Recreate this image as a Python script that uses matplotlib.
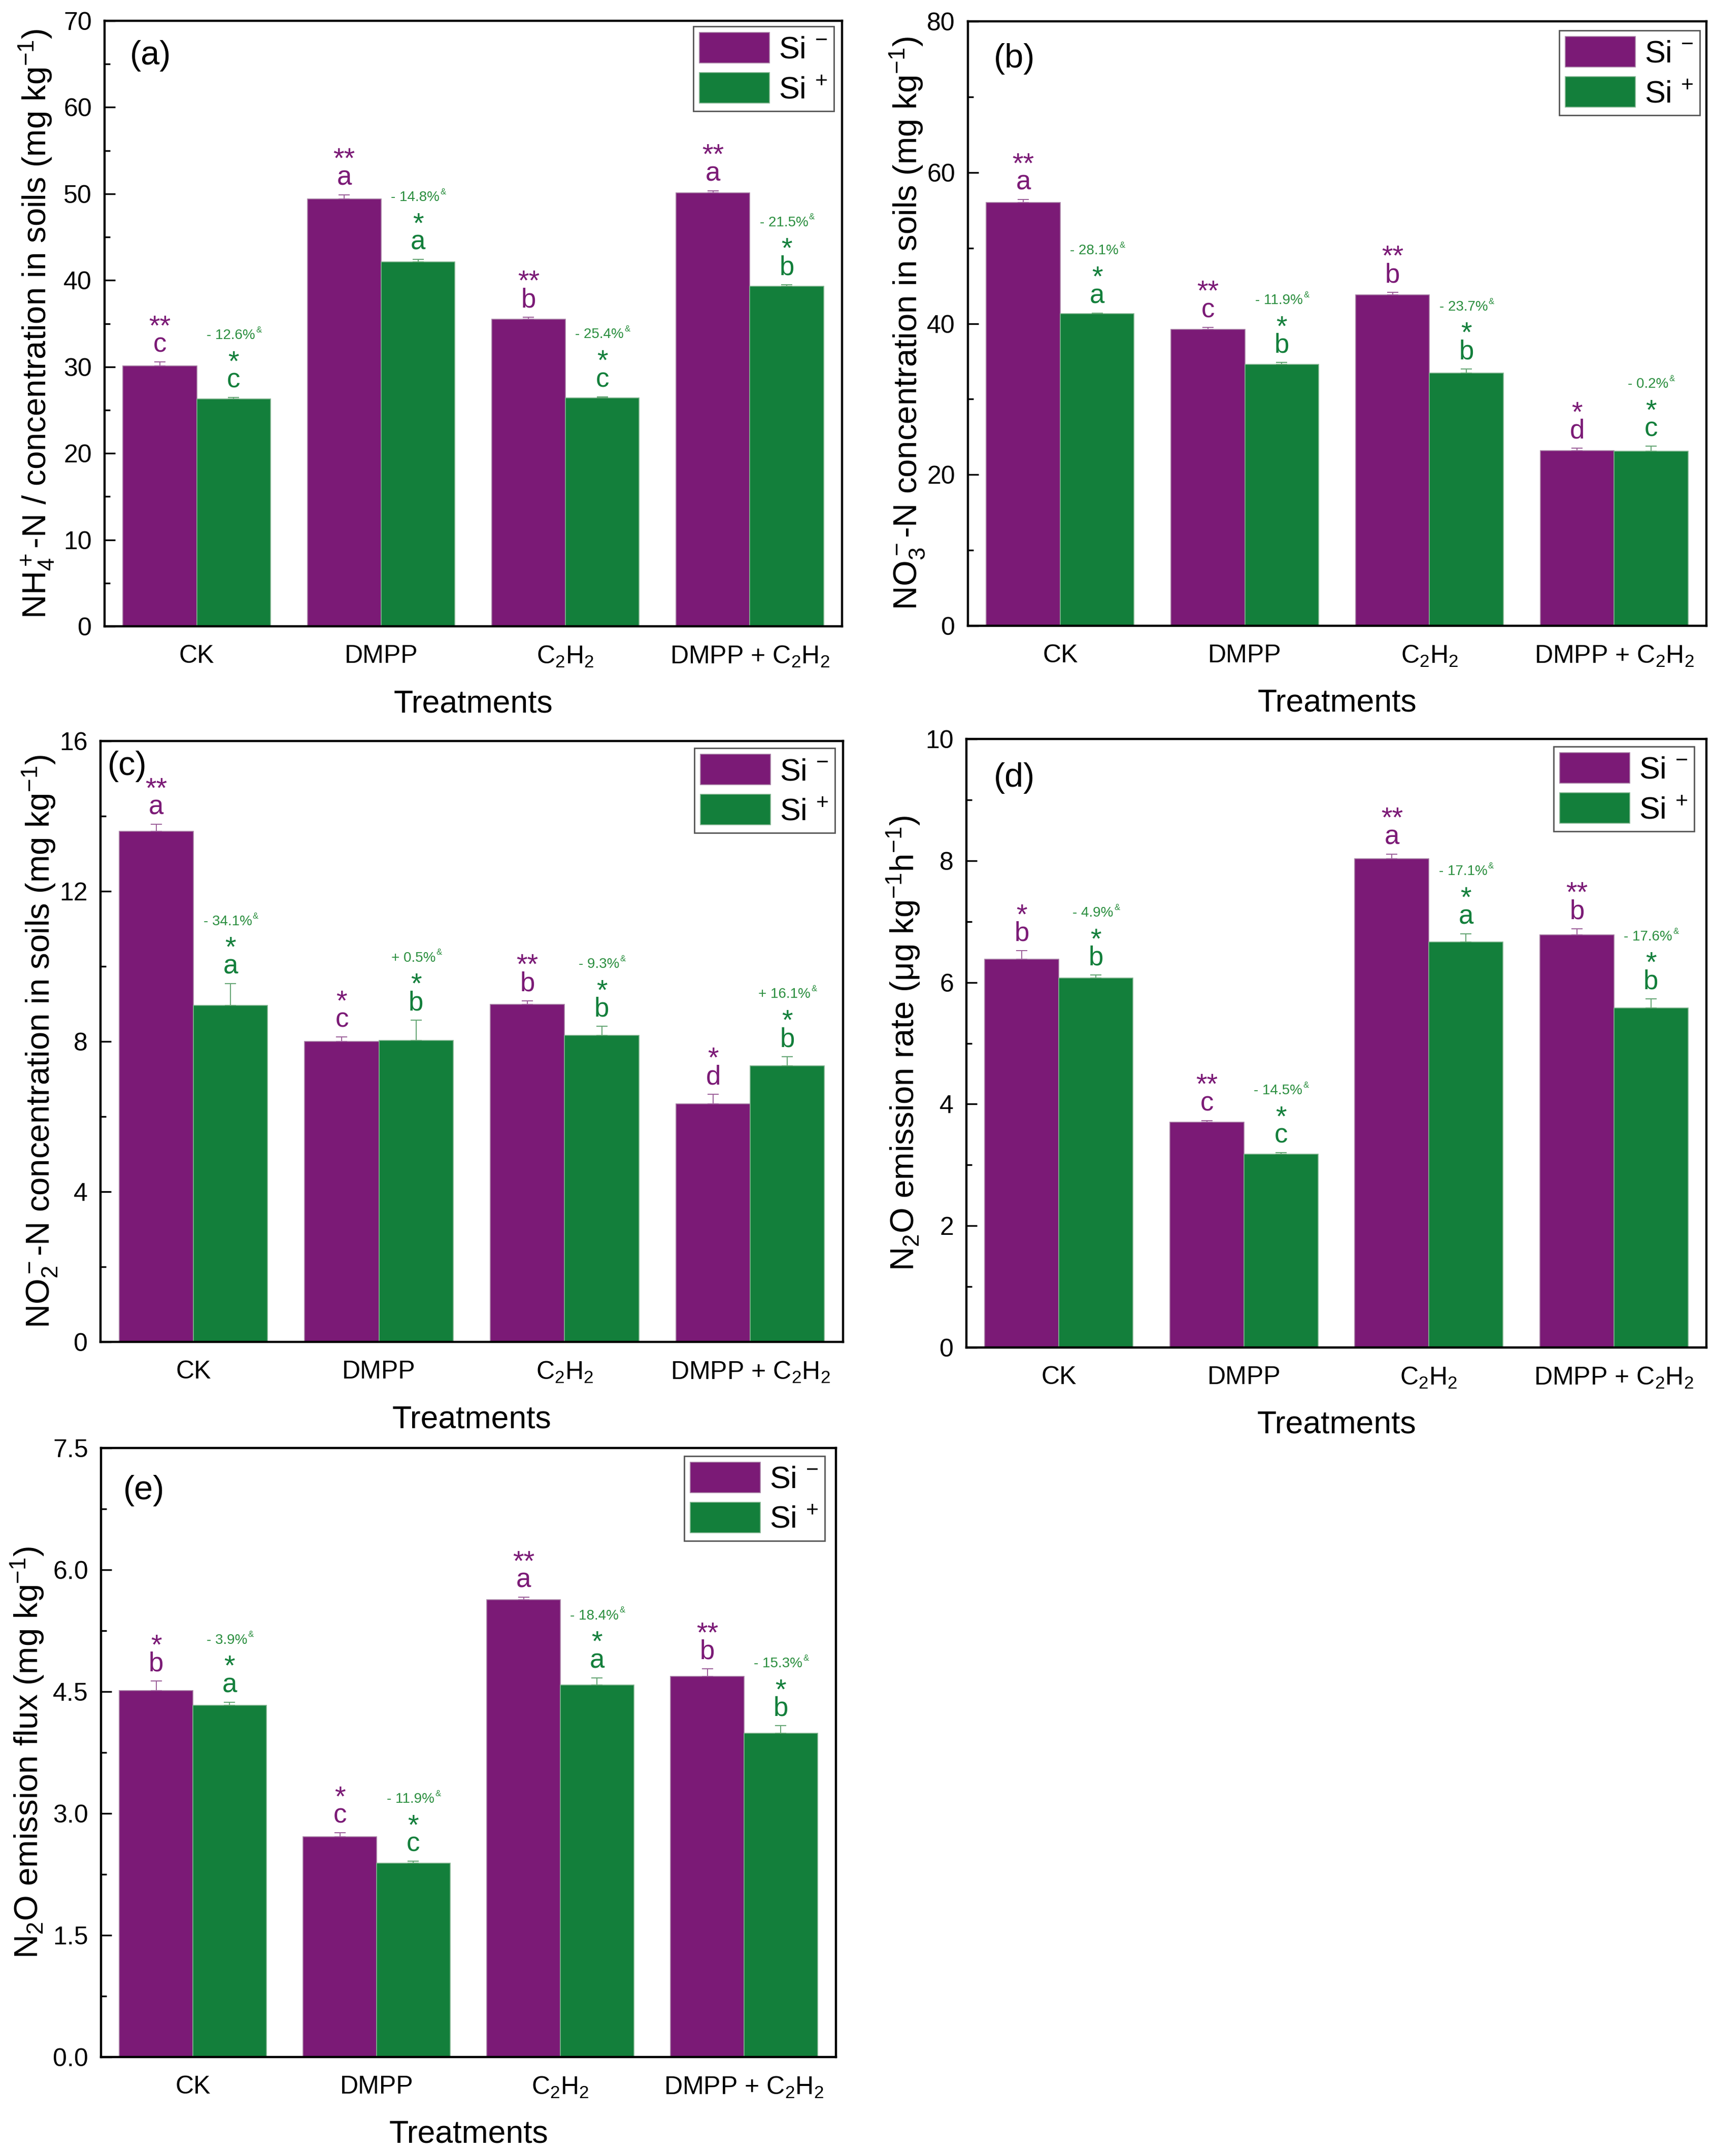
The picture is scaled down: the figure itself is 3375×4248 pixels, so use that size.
import matplotlib
matplotlib.use("Agg")
import matplotlib.pyplot as plt
from matplotlib.ticker import MultipleLocator, FormatStrFormatter
import numpy as np

# ---------------- data ----------------
treatments = ['CK', 'DMPP', r'C$_2$H$_2$', r'DMPP + C$_2$H$_2$']

a_si_minus = [30.1, 49.4, 35.5, 50.1]
a_si_minus_err = [0.45, 0.50, 0.26, 0.26]
a_si_plus = [26.3, 42.1, 26.4, 39.3]
a_si_plus_err = [0.15, 0.30, 0.15, 0.20]
a_letters_minus = ['c', 'a', 'b', 'a']
a_stars_minus = ['**', '**', '**', '**']
a_letters_plus = ['c', 'a', 'c', 'b']
a_stars_plus = ['*', '*', '*', '*']
a_pct = ['- 12.6%', '- 14.8%', '- 25.4%', '- 21.5%']

b_si_minus = [56.0, 39.2, 43.8, 23.2]
b_si_minus_err = [0.40, 0.30, 0.36, 0.30]
b_si_plus = [41.3, 34.6, 33.45, 23.1]
b_si_plus_err = [0.10, 0.24, 0.54, 0.66]
b_letters_minus = ['a', 'c', 'b', 'd']
b_stars_minus = ['**', '**', '**', '*']
b_letters_plus = ['a', 'b', 'b', 'c']
b_stars_plus = ['*', '*', '*', '*']
b_pct = ['- 28.1%', '- 11.9%', '- 23.7%', '- 0.2%']

c_si_minus = [13.6, 8.0, 8.99, 6.34]
c_si_minus_err = [0.18, 0.12, 0.09, 0.26]
c_si_plus = [8.96, 8.03, 8.16, 7.35]
c_si_plus_err = [0.58, 0.54, 0.24, 0.25]
c_letters_minus = ['a', 'c', 'b', 'd']
c_stars_minus = ['**', '*', '**', '*']
c_letters_plus = ['a', 'b', 'b', 'b']
c_stars_plus = ['*', '*', '*', '*']
c_pct = ['- 34.1%', '+ 0.5%', '- 9.3%', '+ 16.1%']

d_si_minus = [6.38, 3.70, 8.03, 6.78]
d_si_minus_err = [0.14, 0.03, 0.08, 0.10]
d_si_plus = [6.07, 3.18, 6.66, 5.58]
d_si_plus_err = [0.05, 0.02, 0.14, 0.15]
d_letters_minus = ['b', 'c', 'a', 'b']
d_stars_minus = ['*', '**', '**', '**']
d_letters_plus = ['b', 'c', 'a', 'b']
d_stars_plus = ['*', '*', '*', '*']
d_pct = ['- 4.9%', '- 14.5%', '- 17.1%', '- 17.6%']

e_si_minus = [4.51, 2.71, 5.63, 4.69]
e_si_minus_err = [0.12, 0.05, 0.03, 0.09]
e_si_plus = [4.33, 2.39, 4.58, 3.99]
e_si_plus_err = [0.04, 0.02, 0.09, 0.09]
e_letters_minus = ['b', 'c', 'a', 'b']
e_stars_minus = ['*', '*', '**', '**']
e_letters_plus = ['a', 'c', 'a', 'b']
e_stars_plus = ['*', '*', '*', '*']
e_pct = ['- 3.9%', '- 11.9%', '- 18.4%', '- 15.3%']

ylabels = [
    r'NH$_4^+$-N / concentration in soils (mg kg$^{-1}$)',
    r'NO$_3^-$-N concentration in soils (mg kg$^{-1}$)',
    r'NO$_2^-$-N concentration in soils (mg kg$^{-1}$)',
    r'N$_2$O emission rate (μg kg$^{-1}$h$^{-1}$)',
    r'N$_2$O emission flux (mg kg$^{-1}$)',
]
panel_tags = ['(a)', '(b)', '(c)', '(d)', '(e)']
legend_labels = [r'Si $^{-}$', r'Si $^{+}$']
xlabel = 'Treatments'

# ---------------- style ----------------
FONT = 'Liberation Sans'
plt.rcParams['font.family'] = [FONT, 'DejaVu Sans']
plt.rcParams['mathtext.fontset'] = 'custom'
plt.rcParams['mathtext.rm'] = FONT
plt.rcParams['mathtext.it'] = FONT + ':italic'
plt.rcParams['mathtext.bf'] = FONT + ':bold'

PURPLE = '#7B1A76'
GREEN = '#137F3B'
PURPLE_EDGE = '#A47BA2'
GREEN_EDGE = '#7FB38D'
PURPLE_ERR = '#9C5F9A'
GREEN_ERR = '#62A472'
PCT_GREEN = '#2A8E3E'

W, H = 3375, 4248
fig = plt.figure(figsize=(W / 100, H / 100), dpi=100)


def box(L, R, T, B):
    return [L / W, 1 - B / H, (R - L) / W, (B - T) / H]


panels = [
    dict(rect=box(206, 1659, 41, 1234), ymax=70, major=10, minor=5, fmt='%d',
         minus=a_si_minus, minus_err=a_si_minus_err, plus=a_si_plus, plus_err=a_si_plus_err,
         lm=a_letters_minus, sm=a_stars_minus, lp=a_letters_plus, sp=a_stars_plus, pct=a_pct,
         ylx=-0.079, tag=(0.034, 0.968), leg=(0.989, 0.991)),
    dict(rect=box(1907, 3362, 42, 1233), ymax=80, major=20, minor=10, fmt='%d',
         minus=b_si_minus, minus_err=b_si_minus_err, plus=b_si_plus, plus_err=b_si_plus_err,
         lm=b_letters_minus, sm=b_stars_minus, lp=b_letters_plus, sp=b_stars_plus, pct=b_pct,
         ylx=-0.069, tag=(0.035, 0.964), leg=(0.991, 0.985)),
    dict(rect=box(198, 1661, 1460, 2644), ymax=16, major=4, minor=2, fmt='%d',
         minus=c_si_minus, minus_err=c_si_minus_err, plus=c_si_plus, plus_err=c_si_plus_err,
         lm=c_letters_minus, sm=c_stars_minus, lp=c_letters_plus, sp=c_stars_plus, pct=c_pct,
         ylx=-0.068, tag=(0.0096, 0.984), leg=(0.989, 0.988)),
    dict(rect=box(1904, 3362, 1456, 2655), ymax=10, major=2, minor=1, fmt='%d',
         minus=d_si_minus, minus_err=d_si_minus_err, plus=d_si_plus, plus_err=d_si_plus_err,
         lm=d_letters_minus, sm=d_stars_minus, lp=d_letters_plus, sp=d_stars_plus, pct=d_pct,
         ylx=-0.070, tag=(0.037, 0.962), leg=(0.9835, 0.9875)),
    dict(rect=box(199, 1647, 2853, 4053), ymax=7.5, major=1.5, minor=0.75, fmt='%.1f',
         minus=e_si_minus, minus_err=e_si_minus_err, plus=e_si_plus, plus_err=e_si_plus_err,
         lm=e_letters_minus, sm=e_stars_minus, lp=e_letters_plus, sp=e_stars_plus, pct=e_pct,
         ylx=-0.0856, tag=(0.030, 0.956), leg=(0.985, 0.987)),
]

x = np.arange(len(treatments))
bw = 0.4

for k, p in enumerate(panels):
    ax = fig.add_axes(p['rect'])
    b1 = ax.bar(x - bw / 2, p['minus'], width=bw, color=PURPLE, edgecolor=PURPLE_EDGE,
                linewidth=1.2, label=legend_labels[0], zorder=2)
    b2 = ax.bar(x + bw / 2, p['plus'], width=bw, color=GREEN, edgecolor=GREEN_EDGE,
                linewidth=1.2, label=legend_labels[1], zorder=2)
    zeros = np.zeros(len(x))
    ax.errorbar(x - bw / 2, p['minus'], yerr=[zeros, p['minus_err']], fmt='none',
                ecolor=PURPLE_ERR, elinewidth=1.4, capsize=8, capthick=1.4, zorder=3)
    ax.errorbar(x + bw / 2, p['plus'], yerr=[zeros, p['plus_err']], fmt='none',
                ecolor=GREEN_ERR, elinewidth=1.4, capsize=8, capthick=1.4, zorder=3)

    for i in range(len(x)):
        tm = p['minus'][i] + p['minus_err'][i]
        tp = p['plus'][i] + p['plus_err'][i]
        ax.annotate(p['lm'][i], (x[i] - bw / 2, tm), xytext=(0, 14), textcoords='offset points',
                    ha='center', va='baseline', fontsize=38, color=PURPLE)
        ax.annotate(p['sm'][i], (x[i] - bw / 2, tm), xytext=(0, 39), textcoords='offset points',
                    ha='center', va='baseline', fontsize=40, color=PURPLE)
        ax.annotate(p['lp'][i], (x[i] + bw / 2, tp), xytext=(0, 14), textcoords='offset points',
                    ha='center', va='baseline', fontsize=38, color=GREEN)
        ax.annotate(p['sp'][i], (x[i] + bw / 2, tp), xytext=(0, 39), textcoords='offset points',
                    ha='center', va='baseline', fontsize=40, color=GREEN)
        t = ax.annotate(p['pct'][i], (x[i] + bw / 2, tp), xytext=(-4, 83),
                        textcoords='offset points', ha='center', va='baseline', fontsize=20,
                        color=PCT_GREEN)
        ax.annotate('&', xy=(1.0, 0.62), xycoords=t, xytext=(1, 0),
                    textcoords='offset points', ha='left', va='bottom', fontsize=12,
                    color=PCT_GREEN)

    ax.set_xlim(-0.5, len(x) - 0.5)
    ax.set_ylim(0, p['ymax'])
    ax.yaxis.set_major_locator(MultipleLocator(p['major']))
    ax.yaxis.set_minor_locator(MultipleLocator(p['minor']))
    ax.yaxis.set_major_formatter(FormatStrFormatter(p['fmt']))
    ax.set_xticks(x)
    ax.set_xticklabels(treatments)
    ax.tick_params(axis='y', which='major', direction='in', length=15, width=2.4,
                   labelsize=36, pad=18)
    ax.tick_params(axis='y', which='minor', direction='in', length=8, width=2.4)
    ax.tick_params(axis='x', which='both', length=0, labelsize=36, pad=26)
    for s in ax.spines.values():
        s.set_linewidth(3.2)

    ax.set_xlabel(xlabel, fontsize=45)
    ax.xaxis.set_label_coords(0.5, -169 / (p['rect'][3] * H))
    ax.xaxis.label.set_va('baseline')
    ax.set_ylabel(ylabels[k], fontsize=47)
    ax.yaxis.set_label_coords(p['ylx'], 0.5)
    ax.yaxis.label.set_va('baseline')

    ax.text(p['tag'][0], p['tag'][1], panel_tags[k], transform=ax.transAxes,
            ha='left', va='top', fontsize=48)

    leg = ax.legend(handles=[b1, b2], loc='upper right', bbox_to_anchor=p['leg'],
                    borderaxespad=0, fontsize=44, handlelength=2.25, handleheight=1.13,
                    labelspacing=0.25, borderpad=0.2, handletextpad=0.3,
                    fancybox=False, edgecolor='#555555', framealpha=1)
    leg.get_frame().set_linewidth(2)

fig.savefig('out.png', dpi=100)
